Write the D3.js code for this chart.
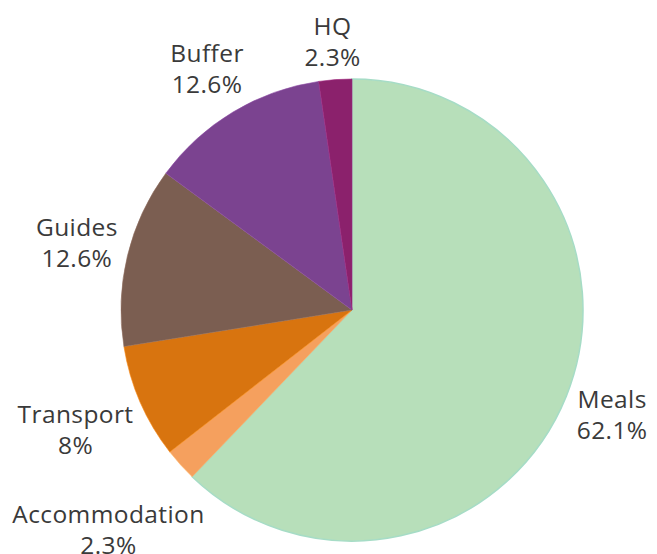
<!DOCTYPE html>
<html><head><meta charset="utf-8">
<script src="https://cdn.jsdelivr.net/npm/d3@7"></script>
<style>html,body{margin:0;padding:0;background:#fff;}</style>
</head><body>
<svg id="chart" width="657" height="554"></svg>
<script>
const categories = ["Meals","Accommodation","Transport","Guides","Buffer","HQ"];
const values = [62.1, 2.3, 8, 12.6, 12.6, 2.3];
const labels = ["62.1%","2.3%","8%","12.6%","12.6%","2.3%"];
const colors = ["#b7dfba","#f5a05e","#d8740f","#7b5e51","#7b4390","#8b216c"];

const svg = d3.select("#chart");
const cx = 352, cy = 310, radius = 231, labelR = 236;
const g = svg.append("g").attr("transform", `translate(${cx},${cy})`);

const pie = d3.pie().sort(null).value(d => d.v);
const data = categories.map((c,i) => ({c, v: values[i], l: labels[i], col: colors[i]}));
const arcs = pie(data);
const arc = d3.arc().innerRadius(0).outerRadius(radius);

g.selectAll("path").data(arcs).join("path")
  .attr("d", arc)
  .attr("fill", d => d.data.col)
  .attr("stroke", (d,i) => i === 0 ? "#a6dcc6" : d3.color(d.data.col).brighter(0.4))
  .attr("stroke-width", (d,i) => i === 0 ? 1.5 : 0.6);

const lineH = 31;
const lab = g.selectAll("g.lab").data(arcs).join("g").attr("class","lab");
lab.each(function(d){
  const t = d3.select(this).append("text")
    .attr("text-anchor","middle")
    .style("font-family","'Open Sans', 'Noto Sans', sans-serif")
    .style("font-size","24.5px")
    .style("letter-spacing","0.4px")
    .attr("fill","#3a3a3a");
  t.append("tspan").attr("x",0).attr("y",-lineH/2).attr("dy","0.35em").text(d.data.c);
  t.append("tspan").attr("x",0).attr("y",lineH/2).attr("dy","0.35em").text(d.data.l);
  const bb = this.getBBox();
  const hw = bb.width/2, hh = lineH;
  const a = (d.startAngle + d.endAngle)/2;
  const dx = Math.sin(a), dy = -Math.cos(a);
  const ext = Math.abs(hw*dx) + Math.abs(hh*dy);
  const r = labelR + ext;
  d3.select(this).attr("transform", `translate(${r*dx},${r*dy})`);
});
</script>
</body></html>
